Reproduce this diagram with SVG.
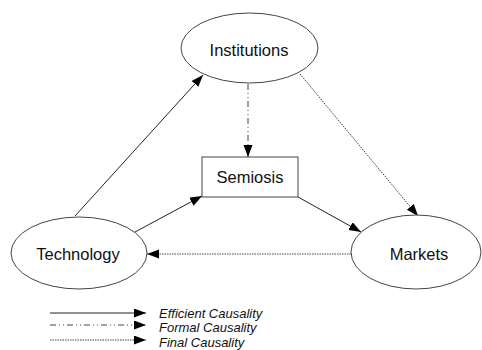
<svg xmlns="http://www.w3.org/2000/svg" width="482" height="350" viewBox="0 0 482 350">
<style>
.node{fill:#fff;stroke:#444;stroke-width:1}
.lbl{font-family:"Liberation Sans",Arial,sans-serif;font-size:16.5px;fill:#111;text-anchor:middle}
.leg{font-family:"Liberation Sans",Arial,sans-serif;font-size:13px;font-style:italic;fill:#111}
.eff{stroke:#222;stroke-width:1;fill:none}
.form{stroke:#444;stroke-width:1;fill:none;stroke-dasharray:6 3 1 3 1 3}
.fin{stroke:#444;stroke-width:1;fill:none;stroke-dasharray:1.5 1}
</style>
<defs>
<marker id="ah" markerUnits="userSpaceOnUse" markerWidth="13" markerHeight="10" refX="12" refY="4.5" orient="auto">
<path d="M0,0 L12,4.5 L0,9 z" fill="#000"/>
</marker>
</defs>
<rect width="482" height="350" fill="#fff"/>
<g id="connectors">
<line class="eff" x1="75" y1="216" x2="203" y2="75" marker-end="url(#ah)"/>
<line class="eff" x1="135" y1="232" x2="202" y2="196" marker-end="url(#ah)"/>
<line class="eff" x1="298" y1="197" x2="361" y2="232" marker-end="url(#ah)"/>
<line class="form" x1="248" y1="84" x2="248" y2="157" marker-end="url(#ah)"/>
<line class="fin" x1="300" y1="74" x2="418" y2="216" marker-end="url(#ah)"/>
<line class="fin" x1="351" y1="254" x2="147" y2="254" marker-end="url(#ah)"/>
</g>
<g id="institutions">
<ellipse class="node" cx="249.5" cy="48" rx="68.5" ry="35"/>
<text class="lbl" x="249" y="56">Institutions</text>
</g>
<g id="semiosis">
<rect class="node" x="202" y="157" width="96" height="40"/>
<text class="lbl" x="250" y="183">Semiosis</text>
</g>
<g id="technology">
<ellipse class="node" cx="79" cy="253" rx="68" ry="36"/>
<text class="lbl" x="78" y="260">Technology</text>
</g>
<g id="markets">
<ellipse class="node" cx="416" cy="252" rx="65" ry="37"/>
<text class="lbl" x="419" y="260">Markets</text>
</g>
<g id="legend">
<line class="eff" x1="50" y1="313" x2="146" y2="313" marker-end="url(#ah)"/>
<line class="form" x1="50" y1="325" x2="146" y2="325" marker-end="url(#ah)"/>
<line class="fin" x1="50" y1="340" x2="146" y2="340" marker-end="url(#ah)"/>
<text class="leg" x="159" y="318">Efficient Causality</text>
<text class="leg" x="159" y="332">Formal Causality</text>
<text class="leg" x="159" y="347">Final Causality</text>
</g>
</svg>
